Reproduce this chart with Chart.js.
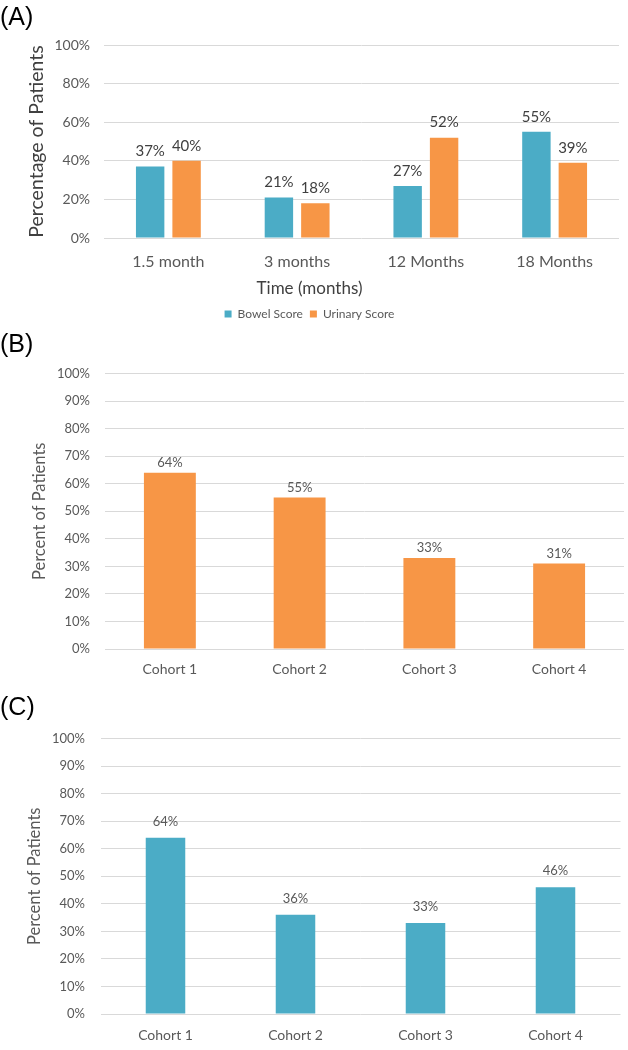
<!DOCTYPE html>
<html lang="en">
<head>
    <meta charset="UTF-8">
    <meta name="viewport" content="width=device-width, initial-scale=1.0">
    <title>Percentage of Patients</title>
    <style>
        body {
            margin: 0;
            background-color: #ffffff;
        }
        .panel {
            position: absolute;
            left: 0;
            width: 628px;
        }
        #panel-a { top: 0; height: 330px; }
        #panel-b { top: 330px; height: 355px; }
        #panel-c { top: 690px; height: 360px; }
    </style>
</head>
<body>
    <div class="panel" id="panel-a"><canvas id="chart-a"></canvas></div>
    <div class="panel" id="panel-b"><canvas id="chart-b"></canvas></div>
    <div class="panel" id="panel-c"><canvas id="chart-c"></canvas></div>

    <script src="https://cdn.jsdelivr.net/npm/chart.js@4.4.0/dist/chart.umd.min.js"></script>
    <script>
        // panel A
        const timeLabels = ['1.5 month', '3 months', '12 Months', '18 Months'];
        const bowelScore = [37, 21, 27, 55];
        const urinaryScore = [40, 18, 52, 39];

        // panels B and C
        const cohortLabels = ['Cohort 1', 'Cohort 2', 'Cohort 3', 'Cohort 4'];
        const cohortB = [64, 55, 33, 31];
        const cohortC = [64, 36, 33, 46];

        const BLUE = '#4bacc6';
        const ORANGE = '#f79646';
        const GRID = '#d9d9d9';

        Chart.defaults.font.family = 'Lato';
        Chart.defaults.color = '#595959';

        // writes the value above each bar
        const barValueLabels = {
            id: 'barValueLabels',
            afterDatasetsDraw(chart, args, opts) {
                const ctx = chart.ctx;
                ctx.save();
                ctx.font = opts.size + 'px Lato';
                ctx.fillStyle = opts.color;
                ctx.textAlign = 'center';
                ctx.textBaseline = 'middle';
                chart.data.datasets.forEach((ds, i) => {
                    chart.getDatasetMeta(i).data.forEach((bar, j) => {
                        ctx.fillText(ds.data[j] + '%', bar.x, bar.y - opts.offset);
                    });
                });
                ctx.restore();
            }
        };

        new Chart(document.getElementById('chart-a'), {
            type: 'bar',
            data: {
                labels: timeLabels,
                datasets: [
                    { label: 'Bowel Score', data: bowelScore, backgroundColor: BLUE },
                    { label: 'Urinary Score', data: urinaryScore, backgroundColor: ORANGE }
                ]
            },
            options: {
                responsive: true,
                maintainAspectRatio: false,
                animation: false,
                categoryPercentage: 0.566,
                barPercentage: 0.78,
                layout: { padding: { right: 9 } },
                scales: {
                    x: {
                        grid: { display: false, drawTicks: false },
                        border: { display: false },
                        ticks: { padding: 14.4, font: { size: 16 } },
                        afterFit: s => { s.height = 35.8; }
                    },
                    y: {
                        min: 0,
                        max: 100,
                        ticks: { stepSize: 20, padding: 14, font: { size: 14 }, callback: v => v + '%' },
                        grid: { color: GRID, drawTicks: false },
                        border: { display: false },
                        title: {
                            display: true, text: 'Percentage of Patients', color: '#404040',
                            font: { size: 19.5 }, padding: { top: 25.3 }
                        },
                        afterFit: s => { s.width = 104; }
                    }
                },
                plugins: {
                    title: {
                        display: true, text: '(A)', align: 'start', color: '#000000',
                        font: { family: 'Liberation Sans', size: 25, weight: 'normal' },
                        padding: { top: 3.5, bottom: 11.5 }
                    },
                    subtitle: {
                        display: true, text: 'Time (months)', position: 'bottom', weight: 500,
                        color: '#404040', font: { size: 17 }, padding: { top: 5, bottom: 1.8 }
                    },
                    legend: {
                        position: 'bottom',
                        labels: { boxWidth: 7, boxHeight: 7, padding: 7, font: { size: 12 } }
                    },
                    tooltip: { enabled: false },
                    barValueLabels: { size: 15, color: '#404040', offset: 15 }
                }
            },
            plugins: [barValueLabels]
        });

        function cohortChart(id, panel, values, color, s) {
            return new Chart(document.getElementById(id), {
                type: 'bar',
                data: {
                    labels: cohortLabels,
                    datasets: [{ label: 'Percent of Patients', data: values, backgroundColor: color }]
                },
                options: {
                    responsive: true,
                    maintainAspectRatio: false,
                    animation: false,
                    categoryPercentage: 0.8,
                    barPercentage: s.bar,
                    layout: { padding: { right: s.right } },
                    scales: {
                        x: {
                            grid: { display: false, drawTicks: false },
                            border: { display: false },
                            ticks: { padding: s.xPad, font: { size: 14 } },
                            afterFit: sc => { sc.height = 36; }
                        },
                        y: {
                            min: 0,
                            max: 100,
                            ticks: { stepSize: 10, padding: s.yPad, font: { size: 13 }, callback: v => v + '%' },
                            grid: { color: GRID, drawTicks: false },
                            border: { display: false },
                            title: {
                                display: true, text: 'Percent of Patients',
                                font: { size: 16.5 }, padding: { top: s.titlePad }
                            },
                            afterFit: sc => { sc.width = s.left; }
                        }
                    },
                    plugins: {
                        title: {
                            display: true, text: panel, align: 'start', color: '#000000',
                            font: { family: 'Liberation Sans', size: 25, weight: 'normal' },
                            padding: s.head
                        },
                        legend: { display: false },
                        tooltip: { enabled: false },
                        barValueLabels: { size: 13, color: '#595959', offset: s.labelOffset }
                    }
                },
                plugins: [barValueLabels]
            });
        }

        cohortChart('chart-b', '(B)', cohortB, ORANGE, {
            bar: 0.5, right: 4, xPad: 12.3, yPad: 15, titlePad: 30, left: 105,
            head: { top: 0.5, bottom: 13 }, labelOffset: 10
        });
        cohortChart('chart-c', '(C)', cohortC, BLUE, {
            bar: 0.38, right: 7.5, xPad: 12.6, yPad: 15.5, titlePad: 25, left: 100.5,
            head: { top: 3.5, bottom: 15 }, labelOffset: 16
        });
    </script>
</body>
</html>
